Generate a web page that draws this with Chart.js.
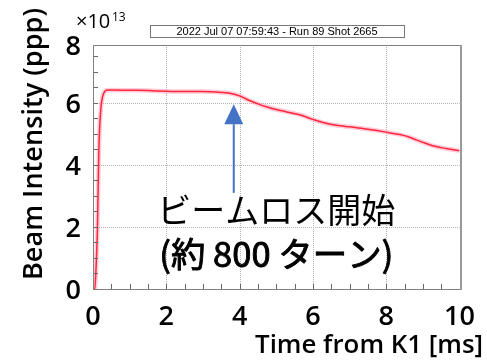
<!DOCTYPE html>
<html>
<head>
<meta charset="utf-8">
<script src="https://cdn.jsdelivr.net/npm/chart.js@4/dist/chart.umd.min.js"></script>
<style>
  html, body { margin: 0; padding: 0; background: #fff; }
  #wrap { width: 487px; height: 360px; }
</style>
</head>
<body>
<div id="wrap"><canvas id="c" width="487" height="360"></canvas></div>
<script>
// Beam intensity after injection (units of 1e13 protons per pulse)
const timeMs = [0, 0.05, 0.08, 0.12, 0.16, 0.21, 0.26, 0.31, 0.36, 0.5, 1.0, 1.5, 2.0, 2.5, 3.0, 3.5, 3.8, 4.0, 4.27, 4.5, 4.75, 5.0, 5.26, 5.64, 6.0, 6.3, 6.55, 7.0, 7.45, 8.0, 8.37, 8.6, 8.82, 9.05, 9.27, 9.5, 9.75, 10.0];
const intensity = [0, 0, 0.6, 1.9, 4.5, 5.75, 6.2, 6.35, 6.41, 6.42, 6.41, 6.40, 6.38, 6.37, 6.37, 6.34, 6.30, 6.23, 6.08, 5.97, 5.87, 5.79, 5.72, 5.62, 5.47, 5.36, 5.30, 5.23, 5.16, 5.06, 4.98, 4.91, 4.81, 4.71, 4.62, 4.56, 4.51, 4.46];

// Axis ticks
const xTickValues = [0, 2, 4, 6, 8, 10];
const xTickLabels = ['0', '2', '4', '6', '8', '10'];
const yTickValues = [0, 2, 4, 6, 8];
const yTickLabels = ['0', '2', '4', '6', '8'];
const yAxisMax = 7.87;

// Beam-loss onset marker
const lossStartMs = 3.84;
const arrowFrom = 3.1;
const arrowTo = 5.96;

const stampText = '2022 Jul 07 07:59:43 - Run 89 Shot 2665';
const noteLine1 = 'ビームロス開始';
const noteLine2 = '(約 800 ターン)';

const FONT = '"Open Sans", "Noto Sans", sans-serif';
const JP_FONT = '"Noto Sans CJK JP", sans-serif';
const series = timeMs.map((t, i) => ({ x: t, y: intensity[i] }));

function fitFont(ctx, text, weight, family, targetWidth) {
  ctx.font = weight + ' 100px ' + family;
  const w = ctx.measureText(text).width;
  return weight + ' ' + (100 * targetWidth / w).toFixed(2) + 'px ' + family;
}

const framePlugin = {
  id: 'frame',
  beforeDatasetsDraw(chart) {
    const { ctx, chartArea: a, scales } = chart;
    ctx.save();
    // dotted grid at the major ticks
    ctx.strokeStyle = '#b4b4b4';
    ctx.lineWidth = 1;
    ctx.setLineDash([1, 1]);
    ctx.beginPath();
    xTickValues.forEach(v => {
      if (v <= 0 || v >= 10) return;
      const px = Math.round(scales.x.getPixelForValue(v)) + 0.5;
      ctx.moveTo(px, a.top);
      ctx.lineTo(px, a.bottom);
    });
    yTickValues.forEach(v => {
      if (v <= 0 || v >= yAxisMax) return;
      const py = Math.round(scales.y.getPixelForValue(v)) + 0.5;
      ctx.moveTo(a.left, py);
      ctx.lineTo(a.right, py);
    });
    ctx.stroke();
    ctx.restore();
  },
  afterDatasetsDraw(chart) {
    const { ctx, chartArea: a, scales } = chart;
    const xs = scales.x, ys = scales.y;
    ctx.save();
    // minor ticks along the bottom and left edges
    ctx.strokeStyle = '#666';
    ctx.lineWidth = 1;
    ctx.beginPath();
    for (let v = 0; v <= 10.001; v += 0.5) {
      const px = Math.round(xs.getPixelForValue(v)) + 0.5;
      ctx.moveTo(px, a.bottom);
      ctx.lineTo(px, a.bottom - 5);
    }
    for (let v = 0; v <= yAxisMax; v += 0.5) {
      const py = Math.round(ys.getPixelForValue(v)) + 0.5;
      ctx.moveTo(a.left, py);
      ctx.lineTo(a.left + 5, py);
    }
    ctx.stroke();
    // plot frame
    ctx.strokeStyle = '#808080';
    ctx.lineWidth = 1;
    ctx.strokeRect(Math.round(a.left) + 0.5, Math.round(a.top) + 0.5, Math.round(a.right - a.left), Math.round(a.bottom - a.top));
    ctx.lineWidth = 2;
    ctx.strokeStyle = '#999';
    ctx.beginPath();
    ctx.moveTo(Math.round(a.right) + 1, a.top);
    ctx.lineTo(Math.round(a.right) + 1, a.bottom + 1);
    ctx.stroke();

    // arrow marking the onset of beam loss
    const ax = xs.getPixelForValue(lossStartMs);
    const yFrom = ys.getPixelForValue(arrowFrom);
    const yTip = ys.getPixelForValue(arrowTo);
    const headLen = 20, headHalf = 9.5;
    ctx.strokeStyle = '#4472C4';
    ctx.fillStyle = '#4472C4';
    ctx.lineWidth = 2;
    ctx.beginPath();
    ctx.moveTo(ax, yFrom);
    ctx.lineTo(ax, yTip + headLen);
    ctx.stroke();
    ctx.beginPath();
    ctx.moveTo(ax, yTip);
    ctx.lineTo(ax - headHalf, yTip + headLen);
    ctx.lineTo(ax + headHalf, yTip + headLen);
    ctx.closePath();
    ctx.fill();

    // annotation text
    const cx = xs.getPixelForValue(5.0);
    ctx.fillStyle = '#000';
    ctx.strokeStyle = '#000';
    ctx.textAlign = 'center';
    ctx.textBaseline = 'middle';
    ctx.font = fitFont(ctx, noteLine1, '400', JP_FONT, 238);
    ctx.fillText(noteLine1, cx, ys.getPixelForValue(2.55));
    ctx.font = fitFont(ctx, noteLine2, '400', JP_FONT, 234);
    const y2 = ys.getPixelForValue(1.13);
    ctx.fillText(noteLine2, cx, y2);
    ctx.lineWidth = 0.9;
    ctx.lineJoin = 'round';
    ctx.strokeText(noteLine2, cx, y2);
    ctx.restore();
  },
  afterDraw(chart) {
    const { ctx } = chart;
    ctx.save();
    ctx.fillStyle = '#000';
    // y-axis title
    ctx.save();
    ctx.translate(42, 280);
    ctx.rotate(-Math.PI / 2);
    ctx.font = fitFont(ctx, 'Beam Intensity (ppp)', '600', FONT, 272);
    ctx.textAlign = 'left';
    ctx.textBaseline = 'alphabetic';
    ctx.fillText('Beam Intensity (ppp)', 0, 0);
    ctx.restore();
    // x-axis title
    ctx.font = fitFont(ctx, 'Time from K1 [ms]', '600', FONT, 228);
    ctx.textAlign = 'right';
    ctx.textBaseline = 'alphabetic';
    ctx.fillText('Time from K1 [ms]', 483, 353);
    // exponent
    ctx.textAlign = 'left';
    ctx.font = '400 20px ' + FONT;
    ctx.fillText('\u00d710', 76, 28);
    ctx.font = '400 12px ' + FONT;
    ctx.fillText('13', 112, 21);
    // run stamp
    ctx.fillStyle = '#fff';
    ctx.fillRect(150, 25, 254, 12);
    ctx.strokeStyle = '#777';
    ctx.lineWidth = 1;
    ctx.strokeRect(150.5, 25.5, 254, 12);
    ctx.fillStyle = '#000';
    ctx.font = '11px "Liberation Sans", Arial, sans-serif';
    ctx.textAlign = 'center';
    ctx.textBaseline = 'middle';
    ctx.fillText(stampText, 277, 32);
    ctx.restore();
  }
};

new Chart(document.getElementById('c'), {
  type: 'line',
  data: {
    datasets: [
      {
        data: series,
        borderColor: 'rgb(255, 40, 60)',
        borderWidth: 1.5,
        pointRadius: 0,
        cubicInterpolationMode: 'monotone',
        fill: false,
        order: 0
      },
      {
        data: series,
        borderColor: 'rgba(255, 140, 170, 0.45)',
        borderWidth: 4.5,
        pointRadius: 0,
        cubicInterpolationMode: 'monotone',
        fill: false,
        order: 1
      }
    ]
  },
  options: {
    responsive: false,
    animation: false,
    events: [],
    layout: { padding: { top: 45, right: 27, left: 0, bottom: 0 } },
    plugins: { legend: { display: false }, tooltip: { enabled: false } },
    scales: {
      x: {
        type: 'linear',
        min: 0,
        max: 10,
        afterFit(s) { s.height = 71; },
        afterBuildTicks(s) { s.ticks = xTickValues.map(v => ({ value: v })); },
        grid: { display: false, drawTicks: false },
        border: { display: false },
        ticks: {
          padding: 12,
          color: '#000',
          font: { family: FONT, size: 27, weight: '600' },
          maxRotation: 0,
          callback: (v, i) => xTickLabels[i]
        }
      },
      y: {
        type: 'linear',
        min: 0,
        max: yAxisMax,
        afterFit(s) { s.width = 93; },
        afterBuildTicks(s) { s.ticks = yTickValues.map(v => ({ value: Math.min(v, yAxisMax) })); },
        grid: { display: false, drawTicks: false },
        border: { display: false },
        ticks: {
          padding: 12,
          labelOffset: 2,
          color: '#000',
          font: { family: FONT, size: 27, weight: '600' },
          callback: (v, i) => yTickLabels[i]
        }
      }
    }
  },
  plugins: [framePlugin]
});
</script>
</body>
</html>
